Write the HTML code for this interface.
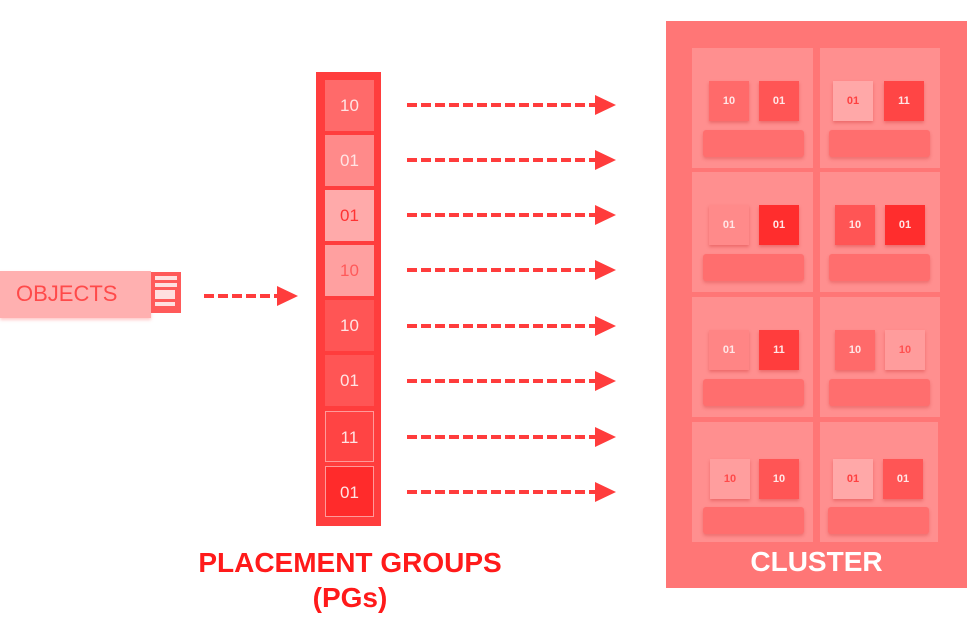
<!DOCTYPE html>
<html><head><meta charset="utf-8"><style>
body{margin:0;width:970px;height:632px;background:#fff;position:relative;overflow:hidden;font-family:"Liberation Sans",Arial,sans-serif}
.a{position:absolute}
.pg{position:absolute;left:325px;width:49px;height:51px;box-sizing:border-box;color:#ffe4e4;font-size:17px;text-align:center;line-height:51px}
.cell{position:absolute;width:120px;height:120px;background:#ff8f8f}
.sq{position:absolute;width:40px;height:40px;top:33px;color:#ffe6e6;font-size:11px;font-weight:bold;text-align:center;line-height:40px;box-shadow:0 2px 3px rgba(200,40,40,.35)}
.bar{position:absolute;left:11px;width:101px;height:27px;top:82px;background:#ff6e6e;border-radius:3px;box-shadow:0 2px 3px rgba(200,40,40,.3)}
.lbl{position:absolute;font-weight:bold;text-align:center}
</style></head><body>
<div class="a" style="left:0;top:271px;width:151px;height:47px;background:#ffb0b0;box-shadow:0 2px 3px rgba(255,120,120,.4)"></div>
<div class="a" style="left:16px;top:281px;font-size:22px;color:#ff4a4a">OBJECTS</div>
<div class="a" style="left:151px;top:272px;width:30px;height:41px;background:#ff5a5a"></div>
<div class="a" style="left:155px;top:276px;width:22px;height:4px;background:#ffe0e0"></div>
<div class="a" style="left:155px;top:283px;width:22px;height:4px;background:#ffe0e0"></div>
<div class="a" style="left:155px;top:290px;width:20px;height:9px;background:#ffe0e0"></div>
<div class="a" style="left:155px;top:302px;width:20px;height:4px;background:#ffe0e0"></div>
<div class="a" style="left:316px;top:72px;width:65px;height:454px;background:#ff3d3d"></div>
<div class="pg" style="top:80px;background:#ff6a6a">10</div>
<div class="pg" style="top:135px;background:#ff8a8a">01</div>
<div class="pg" style="top:190px;background:#ffaaaa;color:#ff3333">01</div>
<div class="pg" style="top:245px;background:#ffa0a0;color:#ff5a5a">10</div>
<div class="pg" style="top:300px;background:#ff5555">10</div>
<div class="pg" style="top:355px;background:#ff5555">01</div>
<div class="pg" style="top:411px;background:#ff4444;border:1px solid #ff9a9a">11</div>
<div class="pg" style="top:466px;background:#ff2b2b;border:1px solid #ff9a9a">01</div>
<svg class="a" style="left:0;top:0" width="970" height="632">
<g stroke="#ff3c3c" stroke-width="4" stroke-dasharray="10,4" fill="none">
<line x1="204" y1="296" x2="280" y2="296"/>
<line x1="407" y1="105" x2="597" y2="105"/>
<line x1="407" y1="160" x2="597" y2="160"/>
<line x1="407" y1="215" x2="597" y2="215"/>
<line x1="407" y1="270" x2="597" y2="270"/>
<line x1="407" y1="326" x2="597" y2="326"/>
<line x1="407" y1="381" x2="597" y2="381"/>
<line x1="407" y1="437" x2="597" y2="437"/>
<line x1="407" y1="492" x2="597" y2="492"/>
</g>
<g fill="#ff3c3c">
<polygon points="277,286 298,296 277,306"/>
<polygon points="595,95 616,105 595,115"/>
<polygon points="595,150 616,160 595,170"/>
<polygon points="595,205 616,215 595,225"/>
<polygon points="595,260 616,270 595,280"/>
<polygon points="595,316 616,326 595,336"/>
<polygon points="595,371 616,381 595,391"/>
<polygon points="595,427 616,437 595,447"/>
<polygon points="595,482 616,492 595,502"/>
</g>
</svg>
<div class="lbl" style="left:150px;top:545px;width:400px;font-size:28px;color:#ff1a1a;line-height:35px">PLACEMENT GROUPS<br>(PGs)</div>
<div class="a" style="left:666px;top:21px;width:301px;height:567px;background:#ff7676"></div>
<div class="cell" style="left:692px;top:48px;width:121px"><div class="sq" style="left:17px;background:#ff6a6a">10</div><div class="sq" style="left:67px;background:#ff5555">01</div><div class="bar"></div></div>
<div class="cell" style="left:820px;top:48px"><div class="sq" style="left:13px;background:#ffa8a8;color:#ff4040">01</div><div class="sq" style="left:64px;background:#ff4545">11</div><div class="bar" style="left:9px"></div></div>
<div class="cell" style="left:692px;top:172px;width:121px"><div class="sq" style="left:17px;background:#ff8a8a">01</div><div class="sq" style="left:67px;background:#ff2d2d">01</div><div class="bar"></div></div>
<div class="cell" style="left:820px;top:172px"><div class="sq" style="left:15px;background:#ff5555">10</div><div class="sq" style="left:65px;background:#ff2d2d">01</div><div class="bar" style="left:9px"></div></div>
<div class="cell" style="left:692px;top:297px;width:121px"><div class="sq" style="left:17px;background:#ff8585">01</div><div class="sq" style="left:67px;background:#ff3d3d">11</div><div class="bar"></div></div>
<div class="cell" style="left:820px;top:297px"><div class="sq" style="left:15px;background:#ff6a6a">10</div><div class="sq" style="left:65px;background:#ff9c9c;color:#ff5050">10</div><div class="bar" style="left:9px"></div></div>
<div class="cell" style="left:692px;top:422px;width:121px"><div class="sq" style="left:18px;background:#ff9e9e;color:#ff4a4a;top:37px">10</div><div class="sq" style="left:67px;background:#ff5555;top:37px">10</div><div class="bar" style="top:85px"></div></div>
<div class="cell" style="left:820px;top:422px;width:118px"><div class="sq" style="left:13px;background:#ffa8a8;color:#ff4040;top:37px">01</div><div class="sq" style="left:63px;background:#ff5555;top:37px">01</div><div class="bar" style="left:8px;top:85px"></div></div>
<div class="lbl" style="left:666px;top:546px;width:301px;font-size:28px;color:#fff">CLUSTER</div>
</body></html>
